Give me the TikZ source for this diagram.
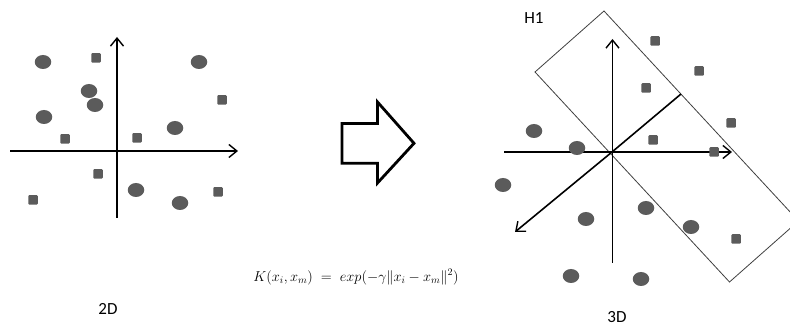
\documentclass[tikz,border=0pt]{standalone}
\usepackage{fontspec}
\setmainfont{Carlito}
\usepackage{amsmath}
\usetikzlibrary{arrows.meta,shapes.geometric}
\begin{document}
\begin{tikzpicture}[x=1pt,y=-1pt,
  dot/.style={ellipse,fill=dotgray,minimum width=16.5pt,minimum height=14pt,inner sep=0pt},
  sq/.style={rectangle,fill=dotgray,rounded corners=1pt,minimum size=9.5pt,inner sep=0pt},
  axis/.style={line width=1.6pt,-{Straight Barb[length=8pt,width=13pt,line width=1.4pt]}},
  plainaxis/.style={line width=1.6pt},
  lbl/.style={font=\fontsize{17}{19}\selectfont,inner sep=0pt}]
\definecolor{dotgray}{HTML}{5B5B5B}
\useasboundingbox (0,0) rectangle (790,328);
\fill[white] (0,0) rectangle (790,328);
% ---------- left panel ----------
\coordinate (lvb) at (117,218);
\coordinate (lvt) at (117,37);
\coordinate (lhl) at (10,151);
\coordinate (lhr) at (238,151);
\draw[axis] (lvb) -- (lvt);
\draw[axis] (lhl) -- (lhr);
\node[dot] (c1) at (43,62) {};
\node[dot] (c2) at (199,62) {};
\node[dot] (c3) at (89,91) {};
\node[dot] (c4) at (95,105) {};
\node[dot] (c5) at (44,117) {};
\node[dot] (c6) at (175,128) {};
\node[dot] (c7) at (136,190) {};
\node[dot] (c8) at (180,203) {};
\node[sq] (s1) at (96,58) {};
\node[sq] (s2) at (222,100) {};
\node[sq] (s3) at (65,139) {};
\node[sq] (s4) at (137,138) {};
\node[sq] (s5) at (98,174) {};
\node[sq] (s6) at (33,200) {};
\node[sq] (s7) at (218,192) {};
\node[lbl] (l2d) at (108,309) {2D};
% ---------- big arrow ----------
\draw[line width=2.8pt,line join=miter]
  (342,123.5) -- (377.5,123.5) -- (377.5,102) -- (414,143.3) -- (377.5,183) -- (377.5,163.3) -- (342,163.3) -- cycle;
% ---------- formula ----------
\node[inner sep=0pt] (formula) at (356,277)
  {\fontsize{13.6}{15}\selectfont $K(x_i,x_m)\;=\;exp(-\gamma\|x_i-x_m\|^2)$};
% ---------- right panel ----------
\begin{scope}
\clip (0,0) rectangle (790,328);
\coordinate (ra) at (604,11);
\coordinate (rb) at (535,72);
\coordinate (rc) at (729.5,282);
\coordinate (rd) at (798.5,221);
\draw[line width=0.8pt,black!75] (ra) -- (rb) -- (rc) -- (rd) -- cycle;
\end{scope}
\coordinate (o) at (612,152);
\coordinate (rvt) at (612.5,39);
\coordinate (rvb) at (612.5,263);
\coordinate (rhl) at (504,152);
\coordinate (rhr) at (732,152);
\coordinate (rdg) at (515,232);
\coordinate (rn) at (681,94);
\draw[axis] (rvb) -- (rvt);
\draw[axis] (rhl) -- (rhr);
\draw[axis] (o) -- (rdg);
\draw[plainaxis] (o) -- (rn);
\node[dot] (d1) at (534,131) {};
\node[dot] (d2) at (577,148) {};
\node[dot] (d3) at (503,185) {};
\node[dot] (d4) at (586,219) {};
\node[dot] (d5) at (646,208) {};
\node[dot] (d6) at (691,227) {};
\node[dot] (d7) at (571,276) {};
\node[dot] (d8) at (641,279) {};
\node[sq] (t1) at (655,41) {};
\node[sq] (t2) at (699,71) {};
\node[sq] (t3) at (646,88) {};
\node[sq] (t4) at (731,123) {};
\node[sq] (t5) at (653,140) {};
\node[sq] (t6) at (714,152) {};
\node[sq] (t7) at (736,239) {};
\node[lbl] (h1) at (534,18) {H1};
\node[lbl] (l3d) at (617,317) {3D};
\end{tikzpicture}
\end{document}
